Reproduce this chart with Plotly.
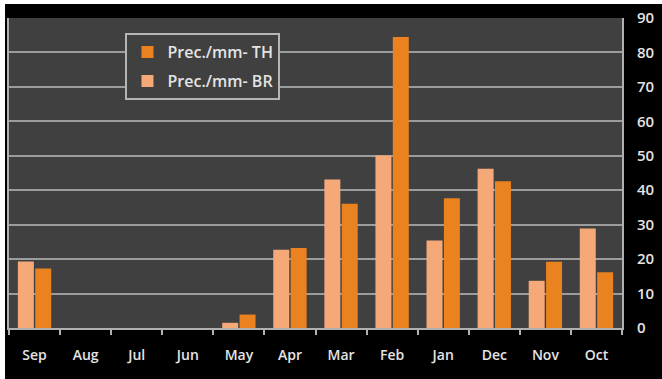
import plotly.graph_objects as go

months = ["Sep", "Aug", "Jul", "Jun", "May", "Apr", "Mar", "Feb", "Jan", "Dec", "Nov", "Oct"]
prec_br = [19.3, 0, 0, 0, 1.5, 22.7, 43.1, 50.1, 25.4, 46.2, 13.7, 28.9]
prec_th = [17.3, 0, 0, 0, 3.9, 23.2, 36.1, 84.5, 37.7, 42.6, 19.2, 16.2]
y_ticks = [0, 10, 20, 30, 40, 50, 60, 70, 80, 90]

FONT = "Open Sans"
TXT = "#e4e4e4"
GRID = "#9c9c9c"

fig = go.Figure()
fig.add_trace(go.Bar(
    x=months, y=prec_br, name="Prec./mm- BR", legendrank=2, legendgroup="br",
    marker=dict(color="#f5a979", line=dict(width=0)),
))
fig.add_trace(go.Bar(
    x=months, y=prec_th, name="Prec./mm- TH", legendrank=1, legendgroup="th",
    marker=dict(color="#e9821f", line=dict(width=0)),
))

fig.update_layout(
    width=662, height=379,
    margin=dict(l=7, r=40, t=18, b=51),
    paper_bgcolor="#000000",
    plot_bgcolor="#404040",
    barmode="group",
    bargap=0.32,
    bargroupgap=0.08,
    font=dict(family=FONT, color=TXT, size=14, weight=600),
    showlegend=True,
    legend=dict(
        x=0.19, y=0.951, xanchor="left", yanchor="top",
        bgcolor="#404040", bordercolor="#b5b5b5", borderwidth=2,
        traceorder="grouped", tracegroupgap=5,
        font=dict(family=FONT, size=16, color=TXT, weight=600),
    ),
    xaxis=dict(
        type="category",
        showline=True, linecolor="#b0b0b0", linewidth=2,
        ticks="outside", tickson="boundaries", ticklen=5, tickwidth=2, tickcolor="#b0b0b0",
        ticklabelstandoff=13,
        tickfont=dict(family=FONT, size=14, color=TXT, weight=600),
        showgrid=False,
    ),
    yaxis=dict(
        side="right", range=[0, 90], tickvals=y_ticks,
        showgrid=True, gridcolor=GRID, gridwidth=1.5,
        showline=True, mirror=True, linecolor="#b0b0b0", linewidth=2,
        ticks="", zeroline=False, ticklabelstandoff=10,
        tickfont=dict(family=FONT, size=15, color=TXT, weight=600),
    ),
    shapes=[
        dict(type="rect", xref="paper", yref="paper",
             x0=-0.02, x1=(3 - 7) / 615, y0=-0.2, y1=1.1,
             fillcolor="white", line=dict(width=0), layer="above"),
        dict(type="rect", xref="paper", yref="paper",
             x0=-0.02, x1=1.1, y0=(327.7 - 4) / 309.7, y1=1.1,
             fillcolor="white", line=dict(width=0), layer="above"),
    ],
)

fig.write_html("out.html")
